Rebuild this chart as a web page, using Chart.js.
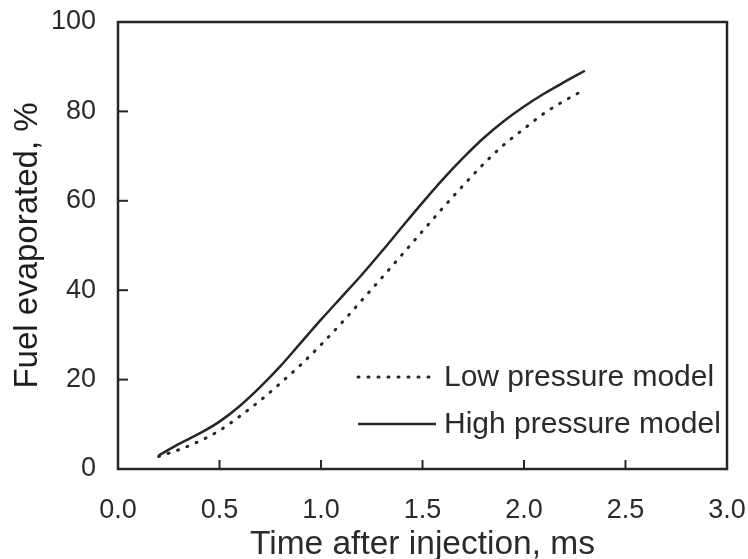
<!DOCTYPE html>
<html>
<head>
<meta charset="utf-8">
<script src="https://cdn.jsdelivr.net/npm/chart.js@4"></script>
<style>
  html, body { margin: 0; padding: 0; background: #fff; }
  #wrap { width: 748px; height: 559px; }
</style>
</head>
<body>
<div id="wrap"><canvas id="chart" width="748" height="559"></canvas></div>
<script>
/*
* fuel evaporated vs time after injection, low and high pressure models.
* values.
*/
const times = [0.2, 0.3, 0.4, 0.5, 0.6, 0.7, 0.8, 0.9, 1.0, 1.1, 1.2, 1.3,
   1.4, 1.5, 1.6, 1.7, 1.8, 1.9, 2.0, 2.1, 2.2, 2.3];
const lowPressure = [2.8, 4.3, 6.2, 8.6, 11.8, 15.3, 19.2, 23.3, 27.8, 32.6, 37.7,
   42.8, 48.0, 53.2, 58.4, 63.4, 68.2, 72.5, 76.1, 79.6, 82.4, 84.9];
const highPressure = [3.0, 5.6, 7.9, 10.6, 14.1, 18.3, 23.0, 28.2, 33.4, 38.4, 43.4,
   48.7, 54.2, 59.6, 64.8, 69.6, 74.0, 77.8, 81.1, 84.0, 86.6, 89.1];
const xTicks = [0.0, 0.5, 1.0, 1.5, 2.0, 2.5, 3.0];
const yTicks = [0, 20, 40, 60, 80, 100];
const seriesLabels = ['Low pressure model', 'High pressure model'];

const ink = '#262626';
const fontFamily = '"Liberation Sans", Arial, Helvetica, sans-serif';

function toPoints(xs, ys) {
   return xs.map((x, i) => ({ x: x, y: ys[i] }));
}

/*
* draws the frame round the plot, the inward tick marks and the legend
* that sits inside the plot area.
*/
const framePlugin = {
   id: 'frame',
   afterDraw(chart) {
      const ctx = chart.ctx;
      const area = chart.chartArea;
      const xs = chart.scales.x;
      const ys = chart.scales.y;
      ctx.save();
      ctx.strokeStyle = ink;
      ctx.lineWidth = 2.5;
      ctx.strokeRect(area.left, area.top, area.right - area.left, area.bottom - area.top);

      ctx.lineWidth = 2;
      xTicks.slice(1, -1).forEach(v => {
         const px = xs.getPixelForValue(v);
         ctx.beginPath();
         ctx.moveTo(px, area.bottom);
         ctx.lineTo(px, area.bottom - 9);
         ctx.stroke();
      });
      yTicks.slice(1, -1).forEach(v => {
         const py = ys.getPixelForValue(v);
         ctx.beginPath();
         ctx.moveTo(area.left, py);
         ctx.lineTo(area.left + 10, py);
         ctx.stroke();
      });

      // legend
      const lx0 = area.left + 240;
      const lx1 = area.left + 318;
      const rows = [area.top + 355, area.top + 402];
      ctx.font = '30px ' + fontFamily;
      ctx.textBaseline = 'middle';
      ctx.fillStyle = '#2a2a2a';
      chart.data.datasets.forEach((ds, i) => {
         ctx.beginPath();
         ctx.lineWidth = ds.borderWidth;
         ctx.lineCap = ds.borderCapStyle || 'butt';
         ctx.setLineDash(ds.borderDash || []);
         ctx.moveTo(lx0, rows[i]);
         ctx.lineTo(lx1, rows[i]);
         ctx.stroke();
         ctx.setLineDash([]);
         ctx.fillText(ds.label, lx1 + 8, rows[i] + 1);
      });
      ctx.restore();
   }
};

const chartData = {
   datasets: [{
      label: seriesLabels[0],
      data: toPoints(times, lowPressure),
      borderColor: ink,
      borderWidth: 3,
      borderDash: [1, 9],
      borderCapStyle: 'round',
      pointRadius: 0,
      cubicInterpolationMode: 'monotone',
      fill: false
   }, {
      label: seriesLabels[1],
      data: toPoints(times, highPressure),
      borderColor: ink,
      borderWidth: 2.5,
      pointRadius: 0,
      cubicInterpolationMode: 'monotone',
      fill: false
   }]
};

const chartOptions = {
   responsive: false,
   animation: false,
   layout: {
      padding: { top: 22, right: 21, left: 0, bottom: 0 }
   },
   scales: {
      x: {
         type: 'linear',
         min: 0,
         max: 3,
         afterBuildTicks: scale => {
            scale.ticks = xTicks.map(v => ({ value: v }));
         },
         afterFit: scale => {
            scale.height = 90;
            scale.paddingLeft = 0;
            scale.paddingRight = 0;
         },
         grid: { display: false, drawTicks: false },
         border: { display: false },
         ticks: {
            color: '#2a2a2a',
            padding: 25,
            maxRotation: 0,
            font: { family: fontFamily, size: 27 },
            callback: v => Number(v).toFixed(1)
         },
         title: {
            display: true,
            text: 'Time after injection, ms',
            color: '#2a2a2a',
            padding: 0,
            font: { family: fontFamily, size: 33.5, lineHeight: 0.85 }
         }
      },
      y: {
         min: 0,
         max: 100,
         afterBuildTicks: scale => {
            scale.ticks = yTicks.map(v => ({ value: v }));
         },
         afterFit: scale => {
            scale.width = 118;
            scale.paddingTop = 0;
            scale.paddingBottom = 0;
         },
         grid: { display: false, drawTicks: false },
         border: { display: false },
         ticks: {
            color: '#2a2a2a',
            padding: 22,
            font: { family: fontFamily, size: 27 }
         },
         title: {
            display: true,
            text: 'Fuel evaporated, %',
            color: '#1e1e1e',
            padding: { top: 8, bottom: 0 },
            font: { family: fontFamily, size: 33 }
         }
      }
   },
   plugins: {
      legend: { display: false },
      tooltip: { enabled: false }
   }
};

new Chart(document.querySelector('#chart'), {
   type: 'line',
   data: chartData,
   options: chartOptions,
   plugins: [framePlugin]
});
</script>
</body>
</html>
